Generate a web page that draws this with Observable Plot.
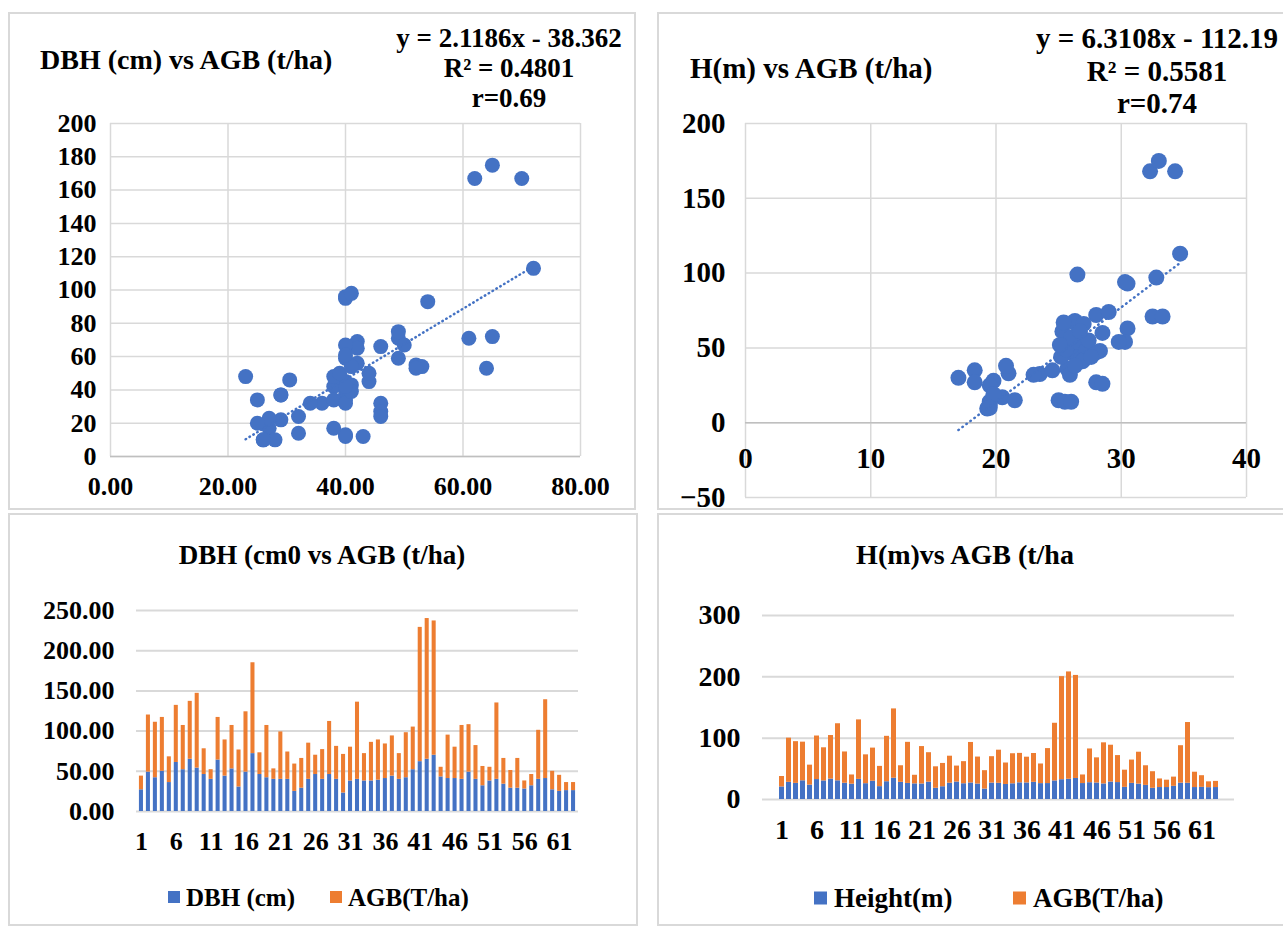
<!DOCTYPE html>
<html>
<head>
<meta charset="utf-8">
<script src="https://cdn.jsdelivr.net/npm/d3@7"></script>
<script src="https://cdn.jsdelivr.net/npm/@observablehq/plot@0.6"></script>
<style>
  html, body { margin: 0; padding: 0; background: #fff; }
  body { width: 1283px; height: 930px; position: relative; overflow: hidden; }
  .box { position: absolute; border: 2px solid #d9d9d9; box-sizing: border-box; }
</style>
</head>
<body>
<script>
// ---------- data ----------
const plotIds = d3.range(1, 64);
// DBH panel pair (DBH scatter + DBH stacked bars)
const dbh = [27,49,42,50,36,61,52,65,54,46,40,64,44,53,30.5,49,72,46,42,40,40,40,25,29,40,46,40,46,40,23,38,40,38,38,39,41,44,40,42,52,62,65,70,43,41,41,40,49,40,32,38,40,34,29,29,28,32,40,41,27,25,26,26];
const agbDbh = [17,71,69,67,32,71,55,72,93,32,12,53,45,54,46,75,113,27,65,13,59,34,34,37,45,24,37,66,41,48,42,96,34,48,50,43,50,32,56,53,167,175,167,12,54,39,67,59,42,24,17,95,32,22,37,10,14,61,98,23,20,10,10];
// Height panel pair (H scatter + Height stacked bars)
const height = [20.5,28,26.3,30.5,23.5,32.5,30.3,33.3,30.5,26.5,25,32.8,25.8,29.8,21,29,34.7,28,26.2,25.5,25.3,28.3,18.3,20.8,26.6,28.5,25.7,27,25.2,17,26.8,26.4,24.5,25.6,27.2,27,28,25.9,26,30.3,32.3,33,34.3,26,27.4,26.9,25.4,28.5,27.6,19.8,26.3,25.1,23,18.3,19.5,19.5,21.5,26.7,26.5,19.5,19.8,19.3,19.5];
const agbH = [17,72,68,63,32.5,71,54,71,93,51,15,97,47,54,33,74,113,27,67,14,61,48,35,38,44,26,36,66,44,30,43,54,35,49,48,42,47,32,57,94,168,175,168,14,55,41,67,60,44,28,38,52,32,27,14,12,15,61,99,25,19,9.5,10];
// trendlines (as printed on the chart)
const fitDbh = { slope: 2.1186, intercept: -38.362 };
const fitH = { slope: 6.3108, intercept: -112.19 };
// tick values / labels
const xTicksDbh = [0, 20, 40, 60, 80];
const yTicksDbh = [0, 20, 40, 60, 80, 100, 120, 140, 160, 180, 200];
const xTicksH = [0, 10, 20, 30, 40];
const yTicksH = [-50, 0, 50, 100, 150, 200];
const yTicksBarDbh = [0, 50, 100, 150, 200, 250];
const yTicksBarH = [0, 100, 200, 300];
const xLabelsBar = [1, 6, 11, 16, 21, 26, 31, 36, 41, 46, 51, 56, 61];
const seriesDbh = ["DBH (cm)", "AGB(T/ha)"];
const seriesH = ["Height(m)", "AGB(T/ha)"];
const titles = ["DBH (cm) vs AGB (t/ha)", "H(m) vs AGB (t/ha)", "DBH (cm0 vs AGB (t/ha)", "H(m)vs AGB (t/ha"];
const eqDbh = ["y = 2.1186x - 38.362", "R\u00B2 = 0.4801", "r=0.69"];
const eqH = ["y = 6.3108x - 112.19", "R\u00B2 = 0.5581", "r=0.74"];

// ---------- styles ----------
const BLUE = "#4472C4", ORANGE = "#ED7D31", GRID = "#d9d9d9", AXIS = "#bfbfbf";
const FONT = "'Liberation Serif','Times New Roman',serif";
const base = { fontFamily: FONT, fontWeight: "bold", color: "#000", background: "transparent", overflow: "visible" };

function place(el, left, top) {
  el.style.position = "absolute";
  el.style.left = left + "px";
  el.style.top = top + "px";
  document.body.appendChild(el);
}
function box(l, t, w, h) {
  const d = document.createElement("div");
  d.className = "box";
  d.style.width = w + "px"; d.style.height = h + "px";
  place(d, l, t);
}
function text(txt, x, y, size, align) {
  const d = document.createElement("div");
  d.textContent = txt;
  Object.assign(d.style, { fontFamily: FONT, fontWeight: "bold", fontSize: size + "px", lineHeight: "1",
    whiteSpace: "nowrap", color: "#000", transform: align === "left" ? "translate(0,-50%)" : "translate(-50%,-50%)" });
  place(d, x, y);
}
function swatch(color, x, y, s) {
  const d = document.createElement("div");
  Object.assign(d.style, { width: s + "px", height: s + "px", background: color, transform: "translate(0,-50%)" });
  place(d, x, y);
}

// panel frames
box(8, 12, 628, 498);
box(657, 12, 640, 498);
box(8, 513, 630, 413);
box(657, 513, 640, 413);

// ---------- top-left: DBH scatter ----------
const scDbh = dbh.map((x, i) => ({ x, y: agbDbh[i] }));
const exDbh = d3.extent(dbh);
const trDbh = exDbh.map(x => ({ x, y: fitDbh.slope * x + fitDbh.intercept }));
place(Plot.plot({
  width: 626, height: 494, marginLeft: 102, marginRight: 54, marginTop: 109, marginBottom: 52,
  style: { ...base, fontSize: "26px" },
  x: { domain: [0, 80], ticks: xTicksDbh, tickFormat: d => d.toFixed(2), tickSize: 0, tickPadding: 20, label: null },
  y: { domain: [0, 200], ticks: yTicksDbh, tickSize: 0, tickPadding: 14, label: null },
  marks: [
    Plot.ruleX(xTicksDbh, { stroke: GRID, strokeWidth: 1.5 }),
    Plot.ruleY(yTicksDbh, { stroke: GRID, strokeWidth: 1.5 }),
    Plot.ruleY([0], { stroke: AXIS, strokeWidth: 1.5 }),
    Plot.dot(scDbh, { x: "x", y: "y", r: 7.5, fill: BLUE }),
    Plot.line(trDbh, { x: "x", y: "y", stroke: BLUE, strokeWidth: 2.5, strokeDasharray: "0.5,4", strokeLinecap: "round" })
  ]
}), 8, 14);
text(titles[0], 40, 60, 28, "left");
eqDbh.forEach((t, i) => text(t, 509, 38 + i * 30, 27));

// ---------- top-right: H scatter ----------
const scH = height.map((x, i) => ({ x, y: agbH[i] }));
const exH = d3.extent(height);
const trH = exH.map(x => ({ x, y: fitH.slope * x + fitH.intercept }));
place(Plot.plot({
  width: 626, height: 496, marginLeft: 87, marginRight: 38, marginTop: 109, marginBottom: 13,
  style: { ...base, fontSize: "29px" },
  x: { domain: [0, 40], axis: null },
  y: { domain: [-50, 200], ticks: yTicksH, tickSize: 0, tickPadding: 20, label: null },
  marks: [
    Plot.ruleX(xTicksH, { stroke: GRID, strokeWidth: 1.5 }),
    Plot.ruleY(yTicksH, { stroke: GRID, strokeWidth: 1.5 }),
    Plot.ruleY([0], { stroke: AXIS, strokeWidth: 1.5 }),
    Plot.text(xTicksH, { x: d => d, y: 0, dy: 36, text: d => String(d), fontSize: 29, fontWeight: "bold", fill: "#000" }),
    Plot.dot(scH, { x: "x", y: "y", r: 8, fill: BLUE }),
    Plot.line(trH, { x: "x", y: "y", stroke: BLUE, strokeWidth: 2.5, strokeDasharray: "0.5,4.5", strokeLinecap: "round" })
  ]
}), 658, 14);
text(titles[1], 690, 68, 29, "left");
eqH.forEach((t, i) => text(t, 1157, 38 + i * 32.5, 29));

// ---------- bottom-left: DBH stacked bars ----------
const rowsDbh = plotIds.flatMap((id, i) => [
  { id, s: seriesDbh[0], v: dbh[i] },
  { id, s: seriesDbh[1], v: agbDbh[i] }
]);
place(Plot.plot({
  width: 624, height: 413, marginLeft: 128, marginRight: 54, marginTop: 97, marginBottom: 115,
  style: { ...base, fontSize: "26px" },
  x: { type: "band", domain: plotIds, padding: 0.42, tickSize: 0, tickPadding: 20,
       tickFormat: d => xLabelsBar.includes(d) ? String(d) : "", label: null },
  y: { domain: [0, 250], ticks: yTicksBarDbh, tickFormat: d => d.toFixed(2), tickSize: 0, tickPadding: 22, label: null },
  color: { domain: seriesDbh, range: [BLUE, ORANGE] },
  marks: [
    Plot.ruleY(yTicksBarDbh, { stroke: GRID, strokeWidth: 2 }),
    Plot.barY(rowsDbh, { x: "id", y: "v", fill: "s" })
  ]
}), 8, 513);
text(titles[2], 322, 555, 27);
swatch(BLUE, 168, 897, 12); text(seriesDbh[0], 186, 897, 25, "left");
swatch(ORANGE, 330, 897, 12); text(seriesDbh[1], 348, 897, 25, "left");

// ---------- bottom-right: Height stacked bars ----------
const rowsH = plotIds.flatMap((id, i) => [
  { id, s: seriesH[0], v: height[i] },
  { id, s: seriesH[1], v: agbH[i] }
]);
place(Plot.plot({
  width: 626, height: 413, marginLeft: 105, marginRight: 49, marginTop: 102, marginBottom: 127,
  style: { ...base, fontSize: "28px" },
  x: { type: "band", domain: plotIds, padding: 0.3, tickSize: 0, tickPadding: 20,
       tickFormat: d => xLabelsBar.includes(d) ? String(d) : "", label: null },
  y: { domain: [0, 300], ticks: yTicksBarH, tickSize: 0, tickPadding: 22, label: null },
  color: { domain: seriesH, range: [BLUE, ORANGE] },
  marks: [
    Plot.ruleY(yTicksBarH, { stroke: GRID, strokeWidth: 2 }),
    Plot.barY(rowsH, { x: "id", y: "v", fill: "s" })
  ]
}), 657, 513);
text(titles[3], 965, 555, 28);
swatch(BLUE, 814, 898, 13); text(seriesH[0], 834, 898, 27, "left");
swatch(ORANGE, 1013, 898, 13); text(seriesH[1], 1033, 898, 27, "left");
</script>
</body>
</html>
